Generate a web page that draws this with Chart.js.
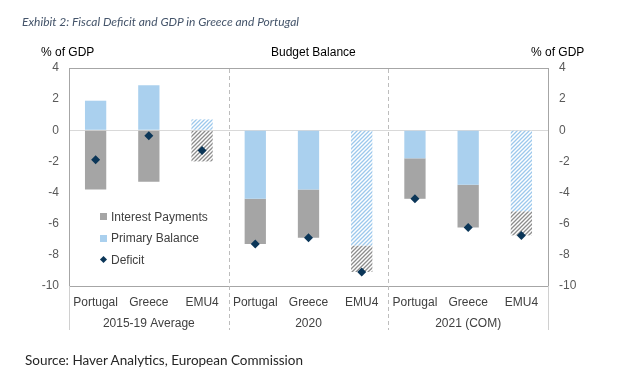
<!DOCTYPE html>
<html>
<head>
<meta charset="utf-8">
<script src="https://cdn.jsdelivr.net/npm/chart.js@4/dist/chart.umd.min.js"></script>
<style>
  body { margin: 0; background: #fff; }
  #wrap { position: relative; width: 618px; height: 380px; overflow: hidden; }
  #chart { position: absolute; left: 0; top: 0; }
  .txt { position: absolute; white-space: nowrap; }
  #title { left: 22px; top: 14px; font: italic 12px Lato, sans-serif; color: #44546A; }
  #source { left: 25px; top: 352px; font: 13.5px Lato, sans-serif; color: #262626; }
  .unit { top: 45px; font: 12px "Liberation Sans", Arial, sans-serif; color: #000; }
  #legend { position: absolute; left: 100px; top: 206px; font: 12px "Liberation Sans", Arial, sans-serif; color: #404040; }
  #legend div { height: 21.5px; display: flex; align-items: center; }
  #legend i { display: inline-block; width: 7px; height: 7px; margin-right: 4px; }
  #legend i.dia { width: 5px; height: 5px; transform: rotate(45deg); margin: 0 5px 0 1px; }
</style>
</head>
<body>
<div id="wrap">
  <canvas id="chart" width="618" height="380"></canvas>
  <div class="txt" id="title">Exhibit 2: Fiscal Deficit and GDP in Greece and Portugal</div>
  <div class="txt unit" style="left:41px">% of GDP</div>
  <div class="txt unit" style="left:271px">Budget Balance</div>
  <div class="txt unit" style="left:531px">% of GDP</div>
  <div id="legend">
    <div><i style="background:#A5A5A5"></i>Interest Payments</div>
    <div><i style="background:#AAD0EE"></i>Primary Balance</div>
    <div><i class="dia" style="background:#0B3658"></i>Deficit</div>
  </div>
  <div class="txt" id="source">Source: Haver Analytics, European Commission</div>
</div>
<script>
// categories and groups
const countries = ["Portugal", "Greece", "EMU4", "Portugal", "Greece", "EMU4", "Portugal", "Greece", "EMU4"];
const periods = ["2015-19 Average", "2020", "2021 (COM)"];

// % of GDP
const primaryBalance = [1.9, 2.9, 0.7, -4.4, -3.8, -7.4, -1.8, -3.5, -5.2];
const interestPayments = [-3.8, -3.3, -2.0, -2.9, -3.1, -1.7, -2.6, -2.75, -1.55];
const deficit = [-1.9, -0.35, -1.3, -7.3, -6.9, -9.1, -4.4, -6.25, -6.75];

const yTicks = [4, 2, 0, -2, -4, -6, -8, -10];

const BLUE = "#AAD0EE";
const GREY = "#A5A5A5";
const NAVY = "#0B3658";

// diagonal hatch for the EMU4 bars
function hatch(color) {
  const s = 4;
  const c = document.createElement("canvas");
  c.width = s; c.height = s;
  const g = c.getContext("2d");
  g.fillStyle = "#fff";
  g.fillRect(0, 0, s, s);
  g.strokeStyle = color;
  g.lineWidth = 1.3;
  g.beginPath();
  g.moveTo(0, s); g.lineTo(s, 0);
  g.moveTo(-1, 1); g.lineTo(1, -1);
  g.moveTo(s - 1, s + 1); g.lineTo(s + 1, s - 1);
  g.stroke();
  return g.createPattern(c, "repeat");
}

const blueHatch = hatch("#9CC8EC");
const greyHatch = hatch("#8C8C8C");
const fill = (solid, pat) => countries.map(c => c === "EMU4" ? pat : solid);

// dashed separators between the periods + light side rules under the axis
const separators = {
  id: "separators",
  afterDraw(chart) {
    const { ctx, chartArea, scales } = chart;
    const x = scales.x;
    const bottom = 330;
    ctx.save();
    ctx.lineWidth = 1;
    ctx.strokeStyle = "#D0D0D0";
    [chartArea.left, chartArea.right].forEach(px => {
      ctx.beginPath();
      ctx.moveTo(Math.round(px) + 0.5, chartArea.bottom);
      ctx.lineTo(Math.round(px) + 0.5, bottom);
      ctx.stroke();
    });
    ctx.strokeStyle = "#BDBDBD";
    ctx.setLineDash([4, 3]);
    [2, 5].forEach(i => {
      const px = Math.round((x.getPixelForValue(i) + x.getPixelForValue(i + 1)) / 2) + 0.5;
      ctx.beginPath();
      ctx.moveTo(px, chartArea.top + 1);
      ctx.lineTo(px, bottom);
      ctx.stroke();
    });
    ctx.restore();
  }
};

const tickFont = { family: "'Liberation Sans', Arial, sans-serif", size: 12 };

new Chart(document.getElementById("chart"), {
  data: {
    labels: countries,
    datasets: [
      {
        type: "line",
        label: "Deficit",
        data: deficit,
        showLine: false,
        stack: "def",
        pointStyle: "rectRot",
        pointRadius: 4.5,
        pointBackgroundColor: NAVY,
        pointBorderColor: NAVY,
        pointBorderWidth: 0,
        order: 0
      },
      {
        type: "bar",
        label: "Primary Balance",
        data: primaryBalance,
        stack: "bal",
        backgroundColor: fill(BLUE, blueHatch),
        barPercentage: 0.8,
        categoryPercentage: 0.5,
        order: 1
      },
      {
        type: "bar",
        label: "Interest Payments",
        data: interestPayments,
        stack: "bal",
        backgroundColor: fill(GREY, greyHatch),
        barPercentage: 0.8,
        categoryPercentage: 0.5,
        order: 2
      }
    ]
  },
  options: {
    responsive: false,
    animation: false,
    layout: { padding: { top: 68, left: 0, right: 0, bottom: 46 } },
    plugins: { legend: { display: false }, tooltip: { enabled: false } },
    scales: {
      x: {
        type: "category",
        stacked: true,
        offset: true,
        grid: { display: false, drawTicks: false },
        border: { display: true, color: "#A6A6A6" },
        ticks: { font: tickFont, color: "#404040", padding: 9, maxRotation: 0, autoSkip: false },
        afterFit: s => { s.height = 26; }
      },
      x2: {
        type: "category",
        labels: periods,
        position: "bottom",
        offset: true,
        grid: { display: false, drawTicks: false },
        border: { display: false },
        ticks: { font: tickFont, color: "#404040", padding: 4, maxRotation: 0 },
        afterFit: s => { s.height = 22; }
      },
      y: {
        position: "left",
        stacked: true,
        min: -10,
        max: 4,
        afterBuildTicks: s => { s.ticks = yTicks.map(v => ({ value: v })); },
        grid: {
          drawTicks: false,
          color: c => c.tick.value === 0 ? "#D9D9D9" : (c.tick.value === 4 ? "#A6A6A6" : "transparent")
        },
        border: { display: true, color: "#A6A6A6" },
        ticks: { font: tickFont, color: "#595959", padding: 10 },
        afterFit: s => { s.width = 69; }
      },
      y2: {
        position: "right",
        min: -10,
        max: 4,
        afterBuildTicks: s => { s.ticks = yTicks.map(v => ({ value: v })); },
        grid: { display: false, drawTicks: false },
        border: { display: true, color: "#A6A6A6" },
        ticks: { font: tickFont, color: "#595959", padding: 11 },
        afterFit: s => { s.width = 70; }
      }
    }
  },
  plugins: [separators]
});
</script>
</body>
</html>
